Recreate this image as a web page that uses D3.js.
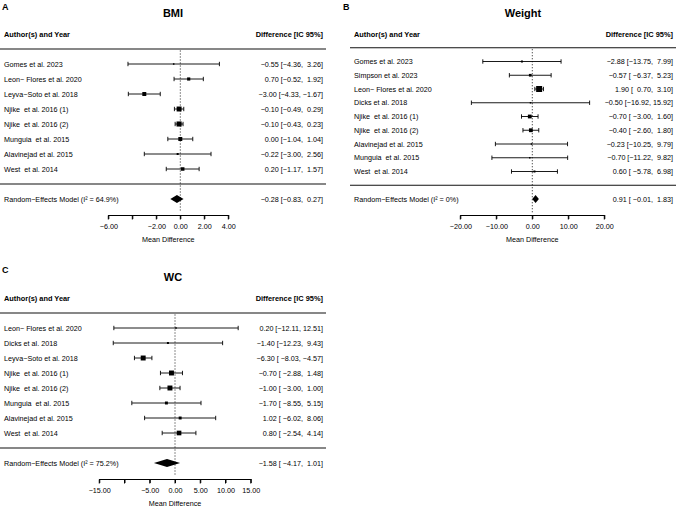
<!DOCTYPE html>
<html>
<head>
<meta charset="utf-8">
<script src="https://cdn.jsdelivr.net/npm/d3@7"></script>
<style>
  body { margin: 0; background: #fff; }
  svg text { font-family: "Liberation Sans", Arial, Helvetica, sans-serif; fill: #000; }
</style>
</head>
<body>
<svg id="chart" width="677" height="510"></svg>
<script>
// ---- BMI (panel A)
const bmiStudies = ['Gomes et al. 2023', 'Leon\u2212 Flores et al. 2020', 'Leyva\u2212Soto et al. 2018',
  'Njike  et al. 2016 (1)', 'Njike  et al. 2016 (2)', 'Munguia  et al. 2015', 'Alavinejad et al. 2015', 'West  et al. 2014'];
const bmiMean  = [-0.55, 0.70, -3.00, -0.10, -0.10, 0.00, -0.22, 0.20];
const bmiLower = [-4.36, -0.52, -4.33, -0.49, -0.43, -1.04, -3.00, -1.17];
const bmiUpper = [3.26, 1.92, -1.67, 0.29, 0.23, 1.04, 2.56, 1.57];
const bmiWeight = [1.6, 7, 11, 17, 18, 11, 2.8, 8.5];
const bmiPooled = [-0.28, -0.83, 0.27];
const bmiI2 = '64.9%';
const bmiTicks = [-6, -4, -2, 0, 2, 4];
const bmiTickLabels = ['\u22126.00', '', '\u22122.00', '0.00', '2.00', '4.00'];

// ---- Weight (panel B)
const wtStudies = ['Gomes et al. 2023', 'Simpson et al. 2023', 'Leon\u2212 Flores et al. 2020', 'Dicks et al. 2018',
  'Njike  et al. 2016 (1)', 'Njike  et al. 2016 (2)', 'Alavinejad et al. 2015', 'Munguia  et al. 2015', 'West  et al. 2014'];
const wtMean  = [-2.88, -0.57, 1.90, -0.50, -0.70, -0.40, -0.23, -0.70, 0.60];
const wtLower = [-13.75, -6.37, 0.70, -16.92, -3.00, -2.60, -10.25, -11.22, -5.78];
const wtUpper = [7.99, 5.23, 3.10, 15.92, 1.60, 1.80, 9.79, 9.82, 6.98];
const wtWeight = [2.8, 5, 25, 1.6, 10, 10, 1.6, 1.6, 2.8];
const wtPooled = [0.91, -0.01, 1.83];
const wtI2 = '0%';
const wtTicks = [-20, -10, 0, 10, 20];
const wtTickLabels = ['\u221220.00', '\u221210.00', '0.00', '10.00', '20.00'];

// ---- WC (panel C)
const wcStudies = ['Leon\u2212 Flores et al. 2020', 'Dicks et al. 2018', 'Leyva\u2212Soto et al. 2018',
  'Njike  et al. 2016 (1)', 'Njike  et al. 2016 (2)', 'Munguia  et al. 2015', 'Alavinejad et al. 2015', 'West  et al. 2014'];
const wcMean  = [0.20, -1.40, -6.30, -0.70, -1.00, -1.70, 1.02, 0.80];
const wcLower = [-12.11, -12.23, -8.03, -2.88, -3.00, -8.55, -6.02, -2.54];
const wcUpper = [12.51, 9.43, -4.57, 1.48, 1.00, 5.15, 8.06, 4.14];
const wcWeight = [1.6, 2.8, 17, 17, 17, 6, 6, 15];
const wcPooled = [-1.58, -4.17, 1.01];
const wcI2 = '75.2%';
const wcTicks = [-15, -10, -5, 0, 5, 10, 15];
const wcTickLabels = ['\u221215.00', '', '\u22125.00', '0.00', '5.00', '10.00', '15.00'];

const FONT = '7.2px';
const fmt = d3.format('.2f');
// keep runs of spaces without needing white-space css
const keep = s => s.replace(/ /g, '\u00a0');

const svg = d3.select('#chart');

function padTo(arr) {
  const n = d3.max(arr, s => s.length);
  return arr.map(s => ' '.repeat(n - s.length) + s);
}

function drawForest(p) {
  const g = svg.append('g').attr('transform', 'translate(' + p.x0 + ',' + p.y0 + ')');
  const k = p.studies.length;

  const x = d3.scaleLinear().domain(d3.extent(p.ticks)).range(p.xRange);
  // rows: k..1 studies, 0 = bottom rule, -1 = pooled, k+1 = top rule, k+2 = header
  const y = d3.scaleLinear().domain([-1, k + 2]).range([199, 34]);
  const box = d3.scaleSqrt().domain([0, 25]).range([0, 6]);
  const axisY = 215.5;

  // title
  g.append('text')
   .attr('x', 173).attr('y', 13)
   .attr('text-anchor', 'middle').attr('dominant-baseline', 'central')
   .style('font-size', '11px').style('font-weight', 'bold')
   .text(p.title);

  // headers
  g.append('text')
   .attr('x', 4).attr('y', y(k + 2))
   .attr('dominant-baseline', 'central')
   .style('font-size', '7.4px').style('font-weight', 'bold')
   .text('Author(s) and Year');
  g.append('text')
   .attr('x', 323).attr('y', y(k + 2))
   .attr('text-anchor', 'end').attr('dominant-baseline', 'central')
   .style('font-size', '7.4px').style('font-weight', 'bold')
   .text('Difference [IC 95%]');

  // rules
  [k + 1, 0].forEach(r => {
    g.append('line')
     .attr('x1', 0).attr('x2', 326)
     .attr('y1', y(r)).attr('y2', y(r))
     .attr('stroke', '#111').attr('stroke-width', 1.2);
  });

  // reference line at 0
  g.append('line')
   .attr('x1', x(0)).attr('x2', x(0))
   .attr('y1', y(k + 1) + 1.5).attr('y2', axisY - 3)
   .attr('stroke', '#000').attr('stroke-width', 0.9)
   .attr('stroke-dasharray', '1,2');

  // text columns, padded like the R output
  const estS = padTo(p.mean.concat([p.pooled[0]]).map(fmt));
  const loS = padTo(p.lower.concat([p.pooled[1]]).map(fmt));
  const hiS = padTo(p.upper.concat([p.pooled[2]]).map(fmt));
  const ciText = estS.map((e, i) => e + ' [' + loS[i] + ', ' + hiS[i] + ']');

  const rows = p.studies.map((s, i) => ({
    label: s, est: p.mean[i], lo: p.lower[i], hi: p.upper[i], w: p.weight[i], row: k - i, ci: ciText[i]
  }));

  const rg = g.selectAll('g.row')
              .data(rows)
              .enter()
              .append('g')
              .attr('class', 'row');

  rg.append('text')
    .attr('x', 4).attr('y', d => y(d.row))
    .attr('dominant-baseline', 'central')
    .style('font-size', FONT)
    .text(d => keep(d.label));

  rg.append('text')
    .attr('x', 323).attr('y', d => y(d.row))
    .attr('text-anchor', 'end').attr('dominant-baseline', 'central')
    .style('font-size', FONT)
    .text(d => keep(d.ci));

  rg.append('line')
    .attr('x1', d => x(d.lo)).attr('x2', d => x(d.hi))
    .attr('y1', d => y(d.row)).attr('y2', d => y(d.row))
    .attr('stroke', '#000').attr('stroke-width', 0.9);

  ['lo', 'hi'].forEach(key => {
    rg.append('line')
      .attr('x1', d => x(d[key])).attr('x2', d => x(d[key]))
      .attr('y1', d => y(d.row) - 2.2).attr('y2', d => y(d.row) + 2.2)
      .attr('stroke', '#000').attr('stroke-width', 0.9);
  });

  rg.append('rect')
    .attr('x', d => x(d.est) - box(d.w) / 2)
    .attr('y', d => y(d.row) - box(d.w) / 2)
    .attr('width', d => box(d.w))
    .attr('height', d => box(d.w))
    .attr('fill', '#000');

  // pooled estimate
  const yRE = y(-1);
  g.append('text')
   .attr('x', 4).attr('y', yRE)
   .attr('dominant-baseline', 'central')
   .style('font-size', FONT)
   .text(keep('Random\u2212Effects Model (I\u00b2 = ' + p.i2 + ')'));
  g.append('text')
   .attr('x', 323).attr('y', yRE)
   .attr('text-anchor', 'end').attr('dominant-baseline', 'central')
   .style('font-size', FONT)
   .text(keep(ciText[k]));
  g.append('path')
   .attr('d', 'M' + x(p.pooled[1]) + ',' + yRE +
              'L' + x(p.pooled[0]) + ',' + (yRE - 4) +
              'L' + x(p.pooled[2]) + ',' + yRE +
              'L' + x(p.pooled[0]) + ',' + (yRE + 4) + 'Z')
   .attr('fill', '#000');

  g.append('text')
   .attr('x', (p.xRange[0] + p.xRange[1]) / 2).attr('y', 239)
   .attr('text-anchor', 'middle').attr('dominant-baseline', 'central')
   .style('font-size', FONT)
   .text('Mean Difference');

  // x axis labels from d3.axisBottom
  const xAxis = d3.axisBottom(x)
                  .tickValues(p.ticks)
                  .tickFormat((d, i) => p.tickLabels[i])
                  .tickSize(4)
                  .tickSizeOuter(0)
                  .tickPadding(5);
  const ax = g.append('g')
              .attr('class', 'axis')
              .attr('transform', 'translate(0,' + (axisY - 0.5) + ')')
              .call(xAxis);
  ax.attr('font-size', null).attr('font-family', null);
  ax.selectAll('path, line')
    .attr('stroke', '#000')
    .attr('stroke-width', 1)
    .attr('fill', 'none');
  ax.selectAll('text').style('font-size', FONT);

  // axis rule and tick marks as plain lines on the panel, from the same scale
  g.append('line')
   .attr('x1', x(p.ticks[0])).attr('x2', x(p.ticks[p.ticks.length - 1]))
   .attr('y1', axisY).attr('y2', axisY)
   .attr('stroke', '#000').attr('stroke-width', 1);
  g.selectAll('line.tickmark')
   .data(p.ticks)
   .enter()
   .append('line')
   .attr('class', 'tickmark')
   .attr('x1', d => x(d)).attr('x2', d => x(d))
   .attr('y1', axisY).attr('y2', axisY + 4)
   .attr('stroke', '#000').attr('stroke-width', 1);
}

drawForest({ title: 'BMI', x0: 0, y0: 0, xRange: [108.3, 228.3],
  studies: bmiStudies, mean: bmiMean, lower: bmiLower, upper: bmiUpper, weight: bmiWeight,
  pooled: bmiPooled, i2: bmiI2, ticks: bmiTicks, tickLabels: bmiTickLabels });

drawForest({ title: 'Weight', x0: 350, y0: 0, xRange: [110.3, 254.3],
  studies: wtStudies, mean: wtMean, lower: wtLower, upper: wtUpper, weight: wtWeight,
  pooled: wtPooled, i2: wtI2, ticks: wtTicks, tickLabels: wtTickLabels });

drawForest({ title: 'WC', x0: 0, y0: 264, xRange: [99.25, 250.75],
  studies: wcStudies, mean: wcMean, lower: wcLower, upper: wcUpper, weight: wcWeight,
  pooled: wcPooled, i2: wcI2, ticks: wcTicks, tickLabels: wcTickLabels });

// panel letters
[['A', 2, 10], ['B', 343, 10], ['C', 2, 273]].forEach(l => {
  svg.append('text')
     .attr('x', l[1]).attr('y', l[2])
     .style('font-size', '9px').style('font-weight', 'bold')
     .text(l[0]);
});
</script>
</body>
</html>
